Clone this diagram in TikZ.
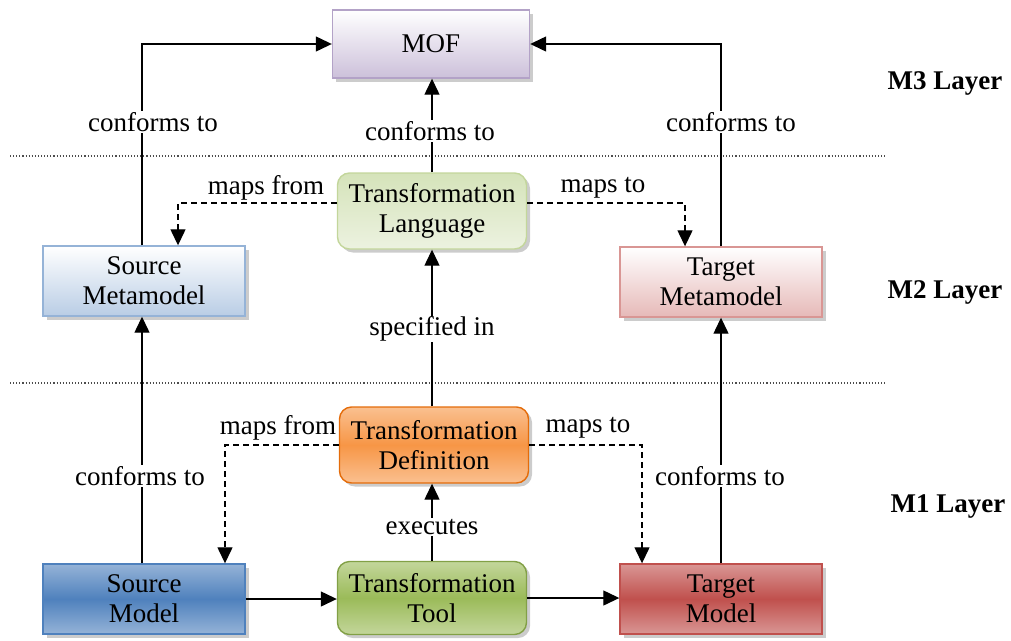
\documentclass[tikz,border=0pt]{standalone}
\usepackage{fontspec}
\setmainfont{Liberation Serif}
\usetikzlibrary{arrows.meta,shadows}

\definecolor{mofbot}{RGB}{204,192,218}
\definecolor{mofline}{RGB}{179,162,199}
\definecolor{tltop}{RGB}{213,227,186}
\definecolor{tlbot}{RGB}{236,242,224}
\definecolor{tlline}{RGB}{195,214,155}
\definecolor{smmbot}{RGB}{185,205,229}
\definecolor{smmline}{RGB}{149,179,215}
\definecolor{tmmbot}{RGB}{230,185,184}
\definecolor{tmmline}{RGB}{217,150,148}
\definecolor{tdlight}{RGB}{250,192,144}
\definecolor{tddark}{RGB}{247,150,70}
\definecolor{tdline}{RGB}{228,108,10}
\definecolor{smlight}{RGB}{149,179,215}
\definecolor{smdark}{RGB}{79,129,189}
\definecolor{smline}{RGB}{79,129,189}
\definecolor{ttlight}{RGB}{195,214,155}
\definecolor{ttdark}{RGB}{155,187,89}
\definecolor{ttline}{RGB}{130,160,70}
\definecolor{tmlight}{RGB}{217,150,148}
\definecolor{tmdark}{RGB}{192,80,77}
\definecolor{tmline}{RGB}{192,80,77}

\begin{document}
\begin{tikzpicture}[x=1pt,y=-1pt,
  font=\fontsize{27}{30}\selectfont,
  box/.style={draw, line width=1.4pt, minimum width=202pt, minimum height=70pt,
    align=center, inner sep=0pt,
    drop shadow={shadow xshift=3.5pt,shadow yshift=-3.5pt,fill=black!40}},
  rbox/.style={box, rounded corners=12pt, minimum width=189pt, minimum height=76pt},
  pale/.style={shading=axis, top color=white, bottom color=#1},
  bold3/.style={shading=axis, top color=#1light, bottom color=#1light, middle color=#1dark},
  lbl/.style={fill=white, inner sep=1pt},
  arr/.style={line width=1.3pt, -{Triangle[length=16pt,width=15pt]}},
  darr/.style={arr, dash pattern=on 6pt off 4pt},
  sep/.style={line width=1.1pt, dotted, black!70},
  layer/.style={font=\fontsize{27}{30}\selectfont\bfseries}]

\useasboundingbox (0,0) rectangle (1011,640);

% layer separators and layer names
\draw[sep] (10,156) -- (886,156);
\draw[sep] (10,383) -- (886,383);
\node[layer] (m3) at (945,83) {M3 Layer};
\node[layer] (m2) at (945,292) {M2 Layer};
\node[layer] (m1) at (948,506) {M1 Layer};

% M3
\node[box, minimum width=197pt, minimum height=68pt, pale=mofbot, draw=mofline] (mof) at (431,44) {MOF};

% M2
\node[rbox, shading=axis, top color=tltop, bottom color=tlbot, draw=tlline] (tl) at (432,211) {Transformation\\Language};
\node[box, pale=smmbot, draw=smmline] (smm) at (144,281) {Source\\Metamodel};
\node[box, pale=tmmbot, draw=tmmline] (tmm) at (721,282) {Target\\Metamodel};

% M1
\node[rbox, bold3=td, draw=tdline] (td) at (434,445) {Transformation\\Definition};
\node[box, bold3=sm, draw=smline] (sm) at (144,599) {Source\\Model};
\node[rbox, minimum height=73pt, bold3=tt, draw=ttline] (tt) at (432,598) {Transformation\\Tool};
\node[box, bold3=tm, draw=tmline] (tm) at (721,599) {Target\\Model};

% conformance links
\draw[arr] ([xshift=-2pt]smm.north) |- (mof.west);
\draw[arr] (tmm.north) |- (mof.east);
\draw[arr] (tl.north) -- (tl.north |- mof.south);
\draw[arr] ([xshift=-2pt]sm.north) -- ([xshift=-2pt]smm.south);
\draw[arr] (tm.north) -- (tmm.south);

% specification and execution
\draw[arr] (td.north -| tl.south) -- (tl.south);
\draw[arr] (tt.north) -- (tt.north |- td.south);

% transformation flow
\draw[arr] (sm.east) -- (sm.east -| tt.west);
\draw[arr] (tt.east) -- (tt.east -| tm.west);

% mappings
\draw[darr] ([yshift=8pt]tl.west) -| ([xshift=34pt]smm.north);
\draw[darr] ([yshift=8pt]tl.east) -| ([xshift=-36pt]tmm.north);
\draw[darr] (td.west) -| ([xshift=81pt]sm.north);
\draw[darr] (td.east) -| ([xshift=-79pt]tm.north);

% link labels
\node[lbl] (c1) at (153,122) {conforms to};
\node[lbl] (c2) at (430,131) {conforms to};
\node[lbl] (c3) at (731,122) {conforms to};
\node (mf1) at (266,188) {maps from};
\node (mt1) at (603,188) {maps to};
\node[lbl] (si) at (432,329) {specified in};
\node (mf2) at (278,428) {maps from};
\node (mt2) at (588,428) {maps to};
\node[lbl] (c4) at (140,476) {conforms to};
\node[lbl] (c5) at (720,476) {conforms to};
\node[lbl] (ex) at (432,527) {executes};
\end{tikzpicture}
\end{document}
